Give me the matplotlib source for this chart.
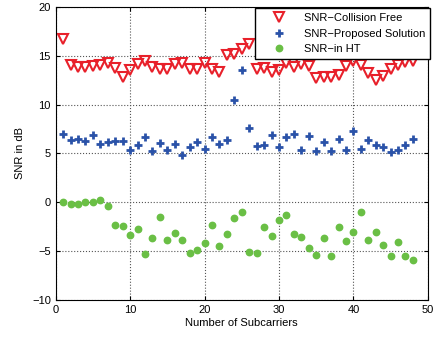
import matplotlib
matplotlib.use('Agg')
import matplotlib.pyplot as plt

subcarriers = list(range(1, 49))

snr_collision_free = [16.7, 14.0, 13.8, 13.8, 13.9, 14.0, 14.3, 13.7, 12.8, 13.5,
                      14.1, 14.5, 13.8, 13.6, 13.6, 14.1, 14.3, 13.6, 13.6, 14.2,
                      13.6, 13.3, 15.05, 15.2, 15.7, 16.2, 13.6, 13.7, 13.35, 13.5,
                      14.3, 13.8, 14.1, 13.9, 12.7, 12.8, 12.8, 13.0, 13.9, 14.5,
                      14.0, 13.2, 12.5, 12.9, 13.6, 14.0, 14.4, 14.5]

snr_proposed = [7.0, 6.4, 6.5, 6.3, 6.9, 6.0, 6.2, 6.3, 6.25, 5.4,
                5.9, 6.7, 5.3, 6.1, 5.4, 6.0, 4.8, 5.7, 6.2, 5.5,
                6.7, 6.0, 6.4, 10.45, 13.5, 7.6, 5.8, 5.9, 6.9, 5.7,
                6.7, 7.0, 5.4, 6.8, 5.2, 6.2, 5.3, 6.5, 5.4, 7.25,
                5.5, 6.4, 5.85, 5.65, 5.1, 5.4, 5.9, 6.5]

snr_in_ht = [0.0, -0.2, -0.2, 0.0, 0.0, 0.25, -0.4, -2.3, -2.4, -3.35,
             -2.7, -5.3, -3.6, -1.5, -3.8, -3.1, -3.9, -5.2, -4.9, -4.2,
             -2.3, -4.5, -3.2, -1.6, -0.95, -5.1, -5.2, -2.5, -3.4, -1.8,
             -1.3, -3.25, -3.5, -4.65, -5.4, -3.6, -5.5, -2.5, -4.0, -3.0,
             -1.0, -3.9, -3.0, -4.35, -5.5, -4.1, -5.5, -5.9]

plt.rcParams['font.family'] = ['Liberation Sans', 'DejaVu Sans']

fig = plt.figure(figsize=(4.37, 3.38), dpi=100)
ax = fig.add_axes([0.1275, 0.112, 0.8515, 0.868])

ax.plot(subcarriers, snr_collision_free, linestyle='none', marker='v',
        markersize=7, markerfacecolor='none', markeredgecolor='#e8202a',
        markeredgewidth=1.5, label='SNR\u2212Collision Free')
ax.plot(subcarriers, snr_proposed, linestyle='none', marker='+',
        markersize=6, markeredgecolor='#2a52a8', markeredgewidth=2,
        label='SNR\u2212Proposed Solution')
ax.plot(subcarriers, snr_in_ht, linestyle='none', marker='o',
        markersize=4.6, markerfacecolor='#6abf45', markeredgecolor='#6abf45',
        label='SNR\u2212in HT')

ax.set_xlim(0, 50)
ax.set_ylim(-10, 20)
ax.set_xticks([0, 10, 20, 30, 40, 50])
ax.set_yticks([-10, -5, 0, 5, 10, 15, 20])
ax.set_yticklabels(['\u221210', '\u22125', '0', '5', '10', '15', '20'])
ax.tick_params(direction='in', labelsize=8, length=3, top=True, right=True)
ax.grid(True, linestyle=':', color='#555555', linewidth=0.8)
ax.set_xlabel('Number of Subcarriers', fontsize=8, labelpad=2)
ax.set_ylabel('SNR in dB', fontsize=8, labelpad=5)

leg = ax.legend(loc='upper right', bbox_to_anchor=(1.006, 0.995), fontsize=8,
                fancybox=False, framealpha=1, edgecolor='black',
                borderaxespad=0, handlelength=3.4, handletextpad=0.55,
                borderpad=0.45, labelspacing=0.5)
leg.get_frame().set_linewidth(1)

fig.savefig('out.png', dpi=100)
